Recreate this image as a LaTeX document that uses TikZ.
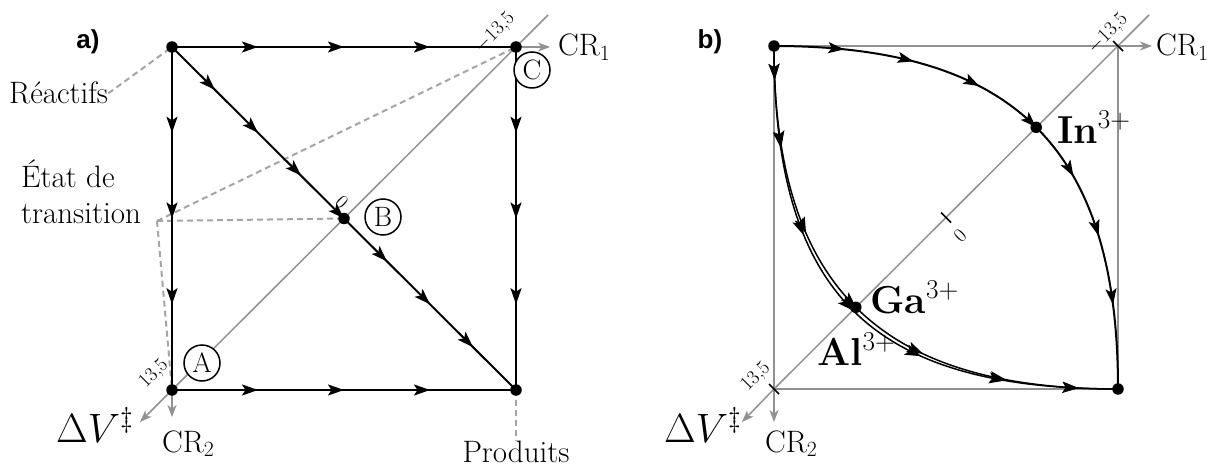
\RequirePackage{fix-cm}
\documentclass[tikz,border=0pt]{standalone}
\usepackage{fontspec}
\newfontfamily\headsans{Liberation Sans}
\usetikzlibrary{arrows.meta,decorations.markings,calc}
\definecolor{axgray}{RGB}{145,145,145}
\definecolor{dashgray}{RGB}{165,165,165}
\tikzset{
  ed/.style={line width=2pt,line join=round},
  thinc/.style={line width=1.5pt},
  ax/.style={draw=axgray,line width=1.5pt},
  axarr/.style={ax,-{Stealth[length=12pt,width=9pt,inset=3.5pt]}},
  dsh/.style={draw=dashgray,line width=2pt,dash pattern=on 6pt off 4pt},
  dot/.style={circle,fill=black,inner sep=0pt,minimum size=11.5pt},
  circ/.style={circle,draw,fill=white,line width=1.5pt,inner sep=0pt,minimum size=36pt,font=\fontsize{28}{32}\selectfont},
  txt/.style={font=\fontsize{31}{37}\selectfont,inner sep=0pt},
  dvl/.style={font=\fontsize{41}{48}\selectfont,inner sep=0pt},
  tk/.style={font=\fontsize{20}{24}\selectfont,rotate=45,inner sep=0pt},
  tkl/.style={line width=1.6pt},
  bl/.style={font=\bfseries\fontsize{39}{46}\selectfont,inner sep=0pt},
  hd/.style={font=\headsans\bfseries\fontsize{26}{30}\selectfont,inner sep=0pt},
  arrat/.style={postaction={decorate,decoration={markings,mark=at position #1 with {\arrow{>}}}}},
  arr3/.style={arrat=0.25,arrat=0.5,arrat=0.75},
}
\begin{document}
\begin{tikzpicture}[x=1pt,y=-1pt,>={Stealth[length=16pt,width=11pt,inset=3.5pt]}]
\useasboundingbox (0,0) rectangle (1207,468);
% ---------------- panel a
\coordinate (aTL) at (172,47);
\coordinate (aTR) at (516,47);
\coordinate (aBL) at (172,390);
\coordinate (aBR) at (516,390);
\coordinate (aB) at (344,218.5);
\coordinate (aDV) at (140,422);
\coordinate (aEnd) at (548,15);
\coordinate (aCR1) at (550,47);
\coordinate (aCR2) at (172,417);
\coordinate (tr) at (157,221);

\draw[ax] (aEnd) -- (aBL);
\draw[axarr] (aBL) -- (aDV);
\draw[axarr] (aTR) -- (aCR1);
\draw[axarr] (aBL) -- (aCR2);

\node[hd] (la) at (88,42) {a)};
\node[txt,anchor=base west] (reac) at (9,104) {Réactifs};
\node[txt,anchor=base west] (etat) at (21,187) {État de};
\node[txt,anchor=base west] (trans) at (21,223) {transition};
\node[txt,anchor=base] (prod) at (516,462) {Produits};
\node[txt,anchor=base west] (acr1) at (558,56) {CR$_1$};
\node[txt,anchor=base west] (acr2) at (162,452) {CR$_2$};
\node[dvl,anchor=base west] (adv) at (56,442) {$\Delta V^{\ddagger}$};

\draw[dsh] (reac.east) -- (aTL);
\draw[dsh] (tr) -- (aB);
\draw[dsh] (tr) -- (aTR);
\draw[dsh] (tr) -- (aBL);
\draw[dsh] (aBR) -- (prod.north);

\draw[ed,arr3] (aTL) -- (aTR);
\draw[ed,arr3] (aTL) -- (aBL);
\draw[ed,arr3] (aTR) -- (aBR);
\draw[ed,arr3] (aBL) -- (aBR);
\draw[ed,arrat=0.125,arrat=0.25,arrat=0.375,arrat=0.5,arrat=0.625,arrat=0.75,arrat=0.875] (aTL) -- (aB) -- (aBR);

\node[circ] (cA) at (202,363) {A};
\node[circ] (cB) at (383,217) {B};
\node[circ] (cC) at (532,70) {C};

\node[tk] (aT1) at (495,33) {$-$13,5};
\node[tk] (aT2) at (154,374) {13,5};
\node[tk,rotate=-90] (aT0) at (342,202) {0};

\foreach \p in {aTL,aTR,aBL,aBR,aB} \node[dot] (d\p) at (\p) {};

% ---------------- panel b
\coordinate (bTL) at (774,46);
\coordinate (bTR) at (1118,46);
\coordinate (bBL) at (774,389);
\coordinate (bBR) at (1118,389);
\coordinate (bC) at (946,217.5);
\coordinate (bDV) at (742,422);
\coordinate (bEnd) at (1149,15);
\coordinate (bCR1) at (1152,46);
\coordinate (bCR2) at (774,422);

\draw[ax] (bTL) rectangle (bBR);
\draw[ax] (bEnd) -- (bBL);
\draw[axarr] (bBL) -- (bDV);
\draw[axarr] (bTR) -- (bCR1);
\draw[axarr] (bBL) -- (bCR2);

\draw[tkl] ($(bTR)+(-5,-5)$) -- ($(bTR)+(5,5)$);
\draw[tkl] ($(bBL)+(-5,-5)$) -- ($(bBL)+(5,5)$);
\draw[tkl] ($(bC)+(-5,-5)$) -- ($(bC)+(5,5)$);

\node[hd] (lb) at (710,42) {b)};
\node[txt,anchor=base west] (bcr1) at (1156,56) {CR$_1$};
\node[txt,anchor=base west] (bcr2) at (765,452) {CR$_2$};
\node[dvl,anchor=base west] (bdv) at (664,442) {$\Delta V^{\ddagger}$};

\node[tk] (bT1) at (1108,34) {$-$13,5};
\node[tk] (bT2) at (756,377) {13,5};
\node[tk] (bT0) at (960,236) {0};

% curves
\draw[ed,arrat=0.125,arrat=0.25,arrat=0.375,arrat=0.5,arrat=0.61,arrat=0.725,arrat=0.85]
  (bTL) .. controls (1014.5,46) and (1118,148.5) .. (bBR) coordinate[pos=0.5] (bIn);
\draw[thinc,arrat=0.06,arrat=0.18,arrat=0.34,arrat=0.5,arrat=0.645,arrat=0.8,arrat=0.93]
  (bTL) .. controls (774,285.5) and (877.5,389) .. (bBR);
\draw[thinc,arrat=0.06,arrat=0.18,arrat=0.34,arrat=0.5,arrat=0.645,arrat=0.8,arrat=0.93]
  (bTL) .. controls (774,293.4) and (869.6,389) .. (bBR);
\path (bTL) .. controls (774,285.5) and (877.5,389) .. (bBR) coordinate[pos=0.5] (bGa);

\node[bl,anchor=base west] (lIn) at (1057,143) {In$^{3+}$};
\node[bl,anchor=base west] (lGa) at (870,313) {Ga$^{3+}$};
\node[bl,anchor=base west] (lAl) at (817,365) {Al$^{3+}$};

\foreach \p in {bTL,bBR,bIn,bGa} \node[dot] (d\p) at (\p) {};
\end{tikzpicture}
\end{document}
